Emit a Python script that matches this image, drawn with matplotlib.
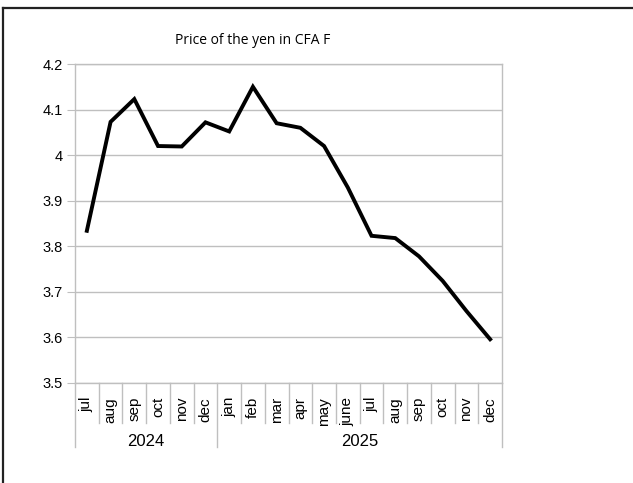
import matplotlib.pyplot as plt
from matplotlib.lines import Line2D

# monthly price of the yen in CFA F, jul 2024 - dec 2025
months = ['jul', 'aug', 'sep', 'oct', 'nov', 'dec',
          'jan', 'feb', 'mar', 'apr', 'may', 'june',
          'jul', 'aug', 'sep', 'oct', 'nov', 'dec']
prices = [3.834, 4.073, 4.123, 4.020, 4.019, 4.072,
          4.052, 4.150, 4.070, 4.060, 4.020, 3.929,
          3.823, 3.818, 3.778, 3.724, 3.658, 3.596]
years = ['2024', '2025']
year_counts = [6, 12]
yticks = [3.5, 3.6, 3.7, 3.8, 3.9, 4.0, 4.1, 4.2]

plt.rcParams['font.family'] = ['Liberation Sans', 'DejaVu Sans']
grid_col = '#bfbfbf'

fig = plt.figure(figsize=(6.33, 4.83), dpi=100)
ax = fig.add_axes([75 / 633, 1 - 383 / 483, 427 / 633, 319 / 483])

x = list(range(len(months)))
ax.plot(x, prices, color='black', lw=2.8, solid_joinstyle='miter', zorder=3)

ax.set_xlim(-0.5, len(months) - 0.5)
ax.set_ylim(3.5, 4.2)
ax.set_yticks(yticks)
ax.set_yticklabels(['%g' % v for v in yticks], fontsize=10.5)
ax.yaxis.grid(True, color=grid_col, lw=1)
ax.tick_params(axis='y', length=6, color=grid_col, pad=3)

ax.set_xticks(x)
ax.set_xticklabels(months, rotation=90, fontsize=11)
ax.tick_params(axis='x', length=0, pad=10)

for s in ax.spines.values():
    s.set_color(grid_col)
    s.set_linewidth(1)

# category separators below the axis
trans = ax.get_xaxis_transform()
year_edges = [-0.5]
for c in year_counts:
    year_edges.append(year_edges[-1] + c)
for i in range(len(months) + 1):
    b = i - 0.5
    low = -64 / 319 if b in year_edges else -40 / 319
    ax.plot([b, b], [0, low], color=grid_col, lw=1, transform=trans, clip_on=False)

for k, yr in enumerate(years):
    mid = (year_edges[k] + year_edges[k + 1]) / 2
    ax.text(mid, -59 / 319, yr, transform=trans, ha='center', va='center', fontsize=12)

fig.text(253 / 633, 1 - 40 / 483, 'Price of the yen in CFA F', ha='center', va='center',
         fontsize=10, family=['Open Sans', 'DejaVu Sans'])

# outer frame (top and left edges)
fig.add_artist(Line2D([3 / 633, 1], [1 - 8 / 483, 1 - 8 / 483], color='#222222', lw=1.6))
fig.add_artist(Line2D([3 / 633, 3 / 633], [0, 1 - 8 / 483], color='#222222', lw=1.6))

fig.savefig('out.png', dpi=100)
